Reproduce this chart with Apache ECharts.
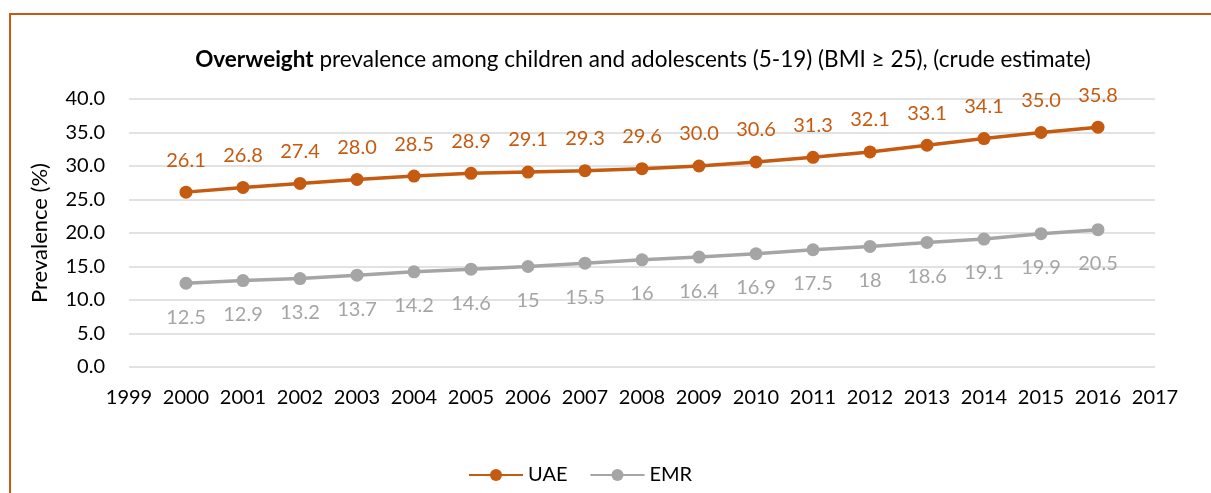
<!DOCTYPE html>
<html><head><meta charset="utf-8">
<script src="https://cdn.jsdelivr.net/npm/echarts@6/dist/echarts.min.js"></script>
<style>html,body{margin:0;padding:0;background:#fff}#frame{position:absolute;left:9px;top:13px;width:1210px;height:490px;border-left:2px solid #c55a11;border-top:2px solid #c55a11}#c{width:1211px;height:493px;position:absolute;left:0;top:0}</style>
</head><body><div id="frame"></div><div id="c"></div>
<script>
const years = [2000,2001,2002,2003,2004,2005,2006,2007,2008,2009,2010,2011,2012,2013,2014,2015,2016];
const uae = [26.1,26.8,27.4,28.0,28.5,28.9,29.1,29.3,29.6,30.0,30.6,31.3,32.1,33.1,34.1,35.0,35.8];
const emr = [12.5,12.9,13.2,13.7,14.2,14.6,15,15.5,16,16.4,16.9,17.5,18,18.6,19.1,19.9,20.5];
const uaeLabels = ['26.1','26.8','27.4','28.0','28.5','28.9','29.1','29.3','29.6','30.0','30.6','31.3','32.1','33.1','34.1','35.0','35.8'];
const emrLabels = ['12.5','12.9','13.2','13.7','14.2','14.6','15','15.5','16','16.4','16.9','17.5','18','18.6','19.1','19.9','20.5'];
const FONT = 'Lato, "Open Sans", sans-serif';
const chart = echarts.init(document.getElementById('c'), null, {renderer:'canvas'});
chart.setOption({
  animation:false,
  textStyle:{fontFamily:FONT},
  title:{
    text:'{b|Overweight} prevalence among children and adolescents (5-19) (BMI ≥ 25), (crude estimate)',
    left:638, textAlign:'center', top:43,
    textStyle:{rich:{b:{fontWeight:'bold',fontSize:22.5,fontFamily:FONT,color:'#000'}},fontSize:22.5,fontWeight:'normal',color:'#000',fontFamily:FONT}
  },
  legend:{
    top:460, left:463, itemWidth:54, itemHeight:15, itemGap:22,
    textStyle:{fontSize:20,color:'#000',fontFamily:FONT},
    data:['UAE','EMR']
  },
  grid:{left:129,right:56,top:99,bottom:126,containLabel:false},
  xAxis:{
    type:'value', min:1999, max:2017, interval:1,
    axisLine:{show:false}, axisTick:{show:false}, splitLine:{show:false},
    axisLabel:{fontSize:20,color:'#000',margin:21,fontFamily:FONT,formatter:v=>String(v),showMinLabel:true,showMaxLabel:true}
  },
  yAxis:{
    type:'value', min:0, max:40, interval:5,
    name:'Prevalence (%)', nameLocation:'middle', nameGap:78, nameRotate:90,
    nameTextStyle:{fontSize:22,color:'#000',fontFamily:FONT},
    axisLine:{show:false}, axisTick:{show:false},
    splitLine:{lineStyle:{color:'#d9d9d9',width:1.5}},
    axisLabel:{fontSize:20,color:'#000',margin:24,fontFamily:FONT,formatter:v=>v.toFixed(1)}
  },
  series:[
    {name:'UAE',type:'line',data:years.map((y,i)=>[y,uae[i]]),
     color:'#c55a11',lineStyle:{width:3.5,color:'#c55a11'},symbol:'circle',symbolSize:13,
     itemStyle:{color:'#c55a11'},
     label:{show:true,position:'top',distance:15.5,fontSize:20,color:'#c55a11',fontFamily:FONT,formatter:p=>uaeLabels[p.dataIndex]}},
    {name:'EMR',type:'line',data:years.map((y,i)=>[y,emr[i]]),
     color:'#a5a5a5',lineStyle:{width:3.5,color:'#a5a5a5'},symbol:'circle',symbolSize:13,
     itemStyle:{color:'#a5a5a5'},
     label:{show:true,position:'bottom',distance:17.5,fontSize:20,color:'#a5a5a5',fontFamily:FONT,formatter:p=>emrLabels[p.dataIndex]}}
  ]
});
</script></body></html>
